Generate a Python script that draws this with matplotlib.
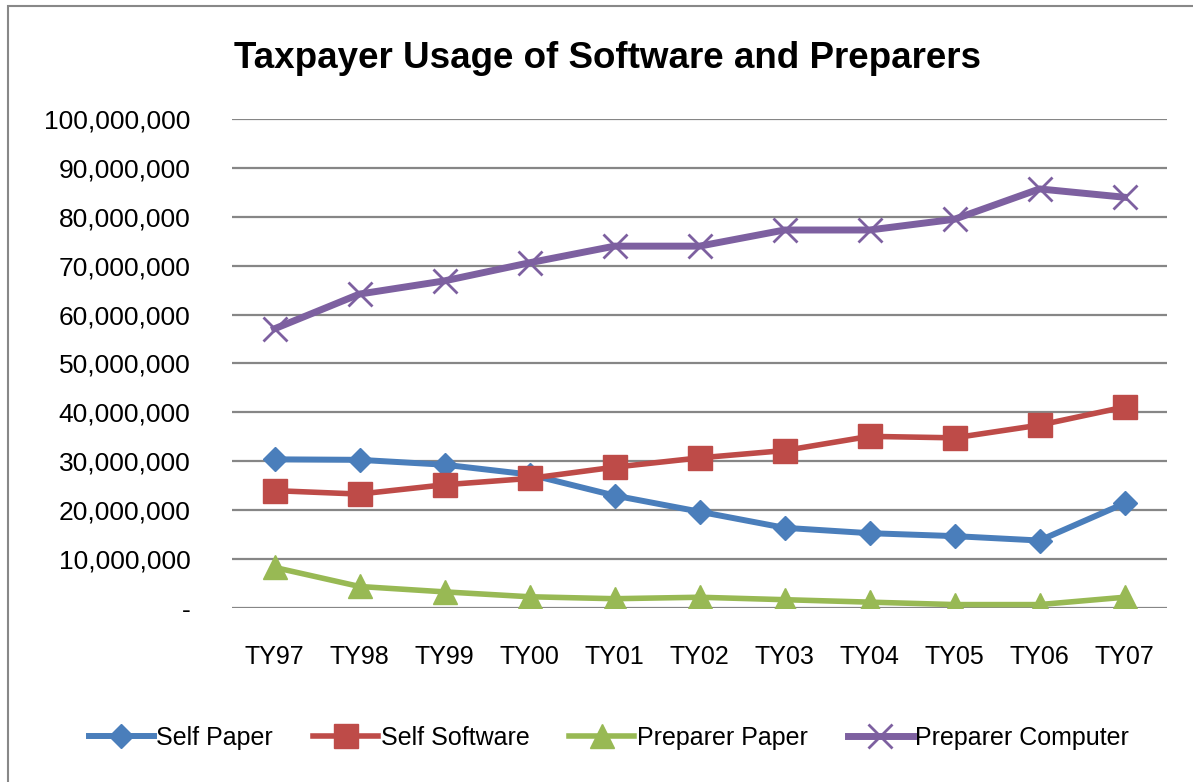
import matplotlib
matplotlib.use("Agg")
import matplotlib.pyplot as plt
from matplotlib import font_manager
from matplotlib.patches import Rectangle
from matplotlib.ticker import FuncFormatter

# font: narrow Arial look-alike if present
names = set(f.name for f in font_manager.fontManager.ttflist)
narrow = "Liberation Sans Narrow" in names
if narrow:
    plt.rcParams["font.family"] = ["Liberation Sans Narrow", "DejaVu Sans"]
else:
    plt.rcParams["font.family"] = ["Liberation Sans", "DejaVu Sans"]

years = ["TY97", "TY98", "TY99", "TY00", "TY01", "TY02", "TY03", "TY04", "TY05", "TY06", "TY07"]
self_paper = [30.4e6, 30.3e6, 29.3e6, 27.3e6, 23.0e6, 19.7e6, 16.4e6, 15.3e6, 14.7e6, 13.8e6, 21.4e6]
self_software = [24.0e6, 23.3e6, 25.2e6, 26.5e6, 28.8e6, 30.7e6, 32.2e6, 35.1e6, 34.8e6, 37.4e6, 41.1e6]
preparer_paper = [8.3e6, 4.4e6, 3.3e6, 2.3e6, 1.9e6, 2.2e6, 1.7e6, 1.2e6, 0.7e6, 0.7e6, 2.2e6]
preparer_computer = [57.1e6, 64.2e6, 66.9e6, 70.6e6, 74.0e6, 74.0e6, 77.3e6, 77.3e6, 79.5e6, 85.7e6, 84.0e6]

W, H = 1193, 782
fig = plt.figure(figsize=(W / 100, H / 100), dpi=100)
ax = fig.add_axes([232 / W, 1 - 608 / H, 935 / W, 489 / H])

# chart border
fig.patches.append(Rectangle((8 / W, -0.05), 1.1, 1 - 6 / H + 0.05, transform=fig.transFigure,
                             fill=False, edgecolor="#888888", lw=1.5))

x = range(len(years))
ax.plot(x, self_paper, color="#4A7EBB", lw=4.3, marker="D", ms=12, label="Self Paper")
ax.plot(x, self_software, color="#BE4B48", lw=4, marker="s", ms=17, label="Self Software")
ax.plot(x, preparer_paper, color="#98B954", lw=4, marker="^", ms=17, label="Preparer Paper")
ax.plot(x, preparer_computer, color="#7D60A0", lw=5, marker="x", ms=17, mew=2, label="Preparer Computer")

tick_fs = 22 if narrow else 19
ax.set_xlim(-0.5, 10.5)
ax.set_ylim(0, 100e6)
ax.set_yticks(range(0, 100000001, 10000000))
ax.yaxis.set_major_formatter(FuncFormatter(lambda v, p: "-" if v == 0 else f"{int(v):,}"))
ax.set_xticks(list(x))
ax.set_xticklabels(years, fontsize=18 if not narrow else 22)
ax.tick_params(axis="both", length=0)
ax.tick_params(axis="y", pad=30, labelsize=tick_fs)
ax.tick_params(axis="x", pad=27)
ax.grid(axis="y", color="#868686", lw=1.6)
ax.set_axisbelow(True)
for s in ax.spines.values():
    s.set_visible(False)

fig.text(607 / W, 1 - 58 / H, "Taxpayer Usage of Software and Preparers", ha="center", va="center",
         fontsize=30 if narrow else 26.5, fontweight="bold")

fig.legend(loc="center", bbox_to_anchor=(609 / W, 1 - 738 / H), ncol=4, frameon=False,
           fontsize=22 if narrow else 18,
           handlelength=2.6, handletextpad=0.1, columnspacing=1.6)

fig.savefig("out.png", dpi=100)
